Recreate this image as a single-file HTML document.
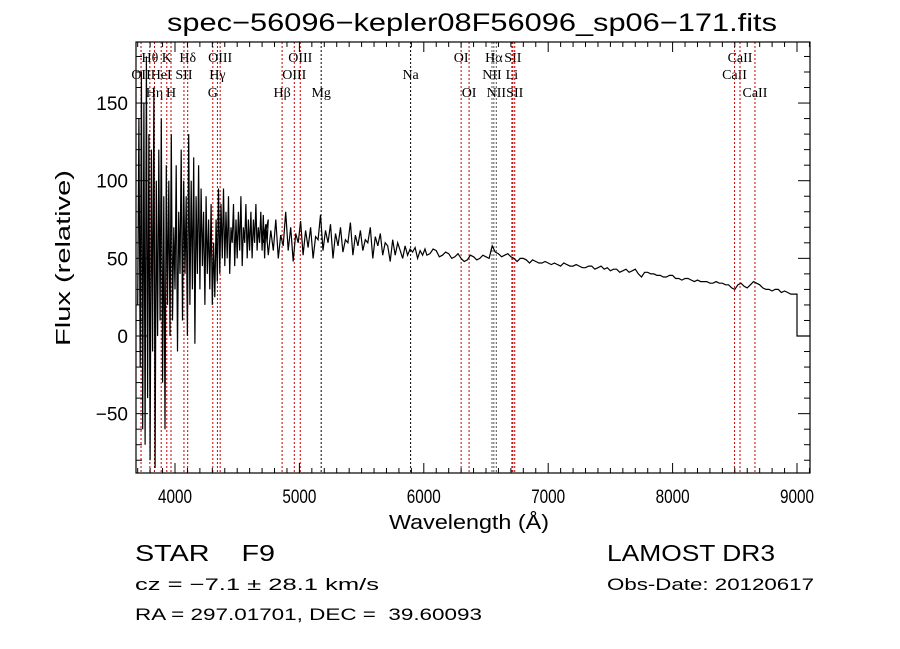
<!DOCTYPE html>
<html><head><meta charset="utf-8"><style>
html,body{margin:0;padding:0;background:#fff;}
svg{display:block;}
text{font-family:"Liberation Serif",serif;fill:#000;}
.ax{font-family:"Liberation Sans",sans-serif;}
</style></head><body>
<svg id="chart" width="900" height="649" viewBox="0 0 900 649">
<text x="472" y="31" font-size="25" text-anchor="middle" textLength="610" lengthAdjust="spacingAndGlyphs" class="ax">spec−56096−kepler08F56096_sp06−171.fits</text>
<g id="lines"></g>
<g id="spec"></g>
<g id="axes"></g>
<text x="469" y="529" font-size="20" text-anchor="middle" textLength="160" lengthAdjust="spacingAndGlyphs" class="ax">Wavelength (Å)</text>
<text transform="translate(70,258) rotate(-90)" font-size="20" text-anchor="middle" textLength="176" lengthAdjust="spacingAndGlyphs" class="ax">Flux (relative)</text>
<text x="135" y="561" font-size="23" textLength="140" lengthAdjust="spacingAndGlyphs" class="ax">STAR&#160;&#160;&#160;&#160;F9</text>
<text x="135" y="590" font-size="17" textLength="244" lengthAdjust="spacingAndGlyphs" class="ax">cz = −7.1 ± 28.1 km/s</text>
<text x="135" y="620" font-size="17" textLength="347" lengthAdjust="spacingAndGlyphs" class="ax" xml:space="preserve">RA = 297.01701, DEC =  39.60093</text>
<text x="607" y="561" font-size="23" textLength="168" lengthAdjust="spacingAndGlyphs" class="ax">LAMOST DR3</text>
<text x="607" y="590" font-size="17" textLength="207" lengthAdjust="spacingAndGlyphs" class="ax">Obs-Date: 20120617</text>
</svg>
<script>
const blueStart=3700, blueStep=10;
const blueFlux=[20,140,-20,170,-60,150,-70,180,-40,130,-80,120,-10,160,-85,100,0,120,10,140,-30,90,-60,110,20,100,0,130,10,70,30,110,-10,80,40,120,10,100,40,90,0,130,20,100,30,115,-5,90,40,110,30,95,45,80,20,90,40,75,30,85,20,60,25,75,35,95,40,85,50,95,45,80,50,90,40,70,60,85,45,75,50,80,55,90,45,70,60,85,50,75,55,80,50,75,60,85,55,70,60,80,55,78,50,70,60,75];
const midStart=4710, midStep=20;
const midFlux=[60,72,52,68,55,75,50,65,58,80,55,70,48,66,60,74,52,68,57,70,50,64,62,78,55,68,60,72,50,66,58,70,54,62,60,73,52,65,58,68,55,62,60,70,50,64,58,66,52,60,58,48,62,52,60,55,50,58,52,56,54,57,50,55,52,56];
const redStart=6000, redStep=25;
const redFlux=[54,52,53,56,55,51,52,54,53,50,51,53,50,48,49,52,51,49,50,52,51,50,58,54,53,51,52,53,51,50,48,50,50,49,47,49,48,47,47,48,47,46,47,46,45,47,46,45,45,46,45,44,44,45,45,43,44,45,43,44,42,43,43,41,42,43,41,42,43,40,38,41,41,40,40,39,39,38,38,39,39,37,37,36,37,37,36,35,36,35,35,35,34,34,35,34,34,33,33,31,30,33,34,32,31,33,35,34,33,31,30,30,29,30,30,28,29,28,27,27,27];
const lineWaves=[3727,3798,3835,3889,3934,3968,4072,4102,4304,4341,4363,4861,4959,5007,5175,5894,6300,6364,6548,6563,6583,6708,6716,6731,8498,8542,8662];
const lineNames=["OII","Hθ","Hη","HeI","K","H","SII","Hδ","G","Hγ","OIII","Hβ","OIII","OIII","Mg","Na","OI","OI","NII","Hα","NII","Li","SII","SII","CaII","CaII","CaII"];
const lineRows=[1,0,2,1,0,2,1,0,2,1,0,2,1,0,2,1,0,2,1,0,2,1,0,2,1,0,2];
const lineColors=["r","r","r","r","r","r","r","r","r","r","r","r","r","r","k","k","r","r","g","g","g","r","r","r","r","r","r"];
const xTicks=[4000,5000,6000,7000,8000,9000];
const yTicks=[-50,0,50,100,150];

const L=136,R=810,T=42,B=473;
const xs=w=>175+(w-4000)*0.1244;
const ys=f=>336-f*1.553;
const NS="http://www.w3.org/2000/svg";
function mk(tag,attrs,parent){const e=document.createElementNS(NS,tag);for(const k in attrs)e.setAttribute(k,attrs[k]);parent.appendChild(e);return e;}
const gl=document.getElementById('lines'),gs=document.getElementById('spec'),ga=document.getElementById('axes');
const colMap={r:"#c00000",k:"#000",g:"#555"};
const rowY=[62,79,97];
lineWaves.forEach((w,i)=>{
  const x=xs(w);
  const ln=mk('line',{x1:x,x2:x,y1:T,y2:B,stroke:colMap[lineColors[i]],'stroke-width':1,'stroke-dasharray':'2,2'},gl);
  
  
  const t=mk('text',{x:x,y:rowY[lineRows[i]],'font-size':14,'text-anchor':'middle'},gl);
  t.textContent=lineNames[i];
  
  
});
const pts=[];
blueFlux.forEach((f,i)=>pts.push([xs(blueStart+i*blueStep),ys(f)]));
midFlux.forEach((f,i)=>pts.push([xs(midStart+i*midStep),ys(f)]));
redFlux.forEach((f,i)=>{if(i>0)pts.push([xs(redStart+i*redStep),ys(f)]);});
pts.push([xs(9000),ys(0)]);pts.push([R,ys(0)]);
const path=mk('polyline',{points:pts.map(p=>p[0].toFixed(1)+','+Math.max(T,Math.min(B,p[1])).toFixed(1)).join(' '),fill:'none',stroke:'#000','stroke-width':1.2},gs);


const fr=mk('rect',{x:L,y:T,width:R-L,height:B-T,fill:'none',stroke:'#000','stroke-width':1.2},ga);


for(let w=3700;w<=9100;w+=100){const x=xs(w);if(x<L||x>R)continue;const maj=w%1000===0;const h=maj?10:5;
  mk('line',{x1:x,x2:x,y1:B,y2:B-h,stroke:'#000'},ga);mk('line',{x1:x,x2:x,y1:T,y2:T+h,stroke:'#000'},ga);}
for(let f=-80;f<=180;f+=10){const y=ys(f);if(y<T||y>B)continue;const maj=f%50===0;const h=maj?12:6;
  mk('line',{x1:L,x2:L+h,y1:y,y2:y,stroke:'#000'},ga);mk('line',{x1:R,x2:R-h,y1:y,y2:y,stroke:'#000'},ga);}
xTicks.forEach(v=>{const t=mk('text',{x:xs(v),y:503,'font-size':19,'text-anchor':'middle',class:'ax',textLength:34,lengthAdjust:'spacingAndGlyphs'},ga);t.textContent=v;
  
  });
yTicks.forEach(v=>{const t=mk('text',{x:128,y:ys(v)+7,'font-size':19,'text-anchor':'end',class:'ax'},ga);t.textContent=v<0?'−'+(-v):v;
  
  });
</script>
</body></html>
